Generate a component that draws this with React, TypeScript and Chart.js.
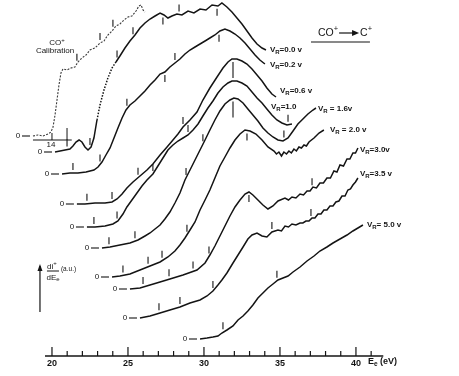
import React, { useEffect, useRef } from "react";
import { Chart, registerables } from "chart.js";

Chart.register(...registerables);

const FONT = '"Liberation Sans", Arial, Helvetica, sans-serif';
const INK = "#141414";

// ---- x axis (electron energy, eV) ----
const axisTicks = [20, 21, 22, 23, 24, 25, 26, 27, 28, 29, 30, 31, 32, 33, 34, 35, 36, 37, 38, 39, 40, 41];
const axisStart = 19.54;
const axisEnd = 41.8;

// ---- CO+ calibration ----
const calE = [18.75, 19.08, 19.41, 19.74, 19.93, 20.07, 20.2, 20.33, 20.46, 20.59, 20.72, 20.99, 21.25, 21.51, 21.71, 21.97, 22.24, 22.5, 22.83, 23.16, 23.42, 23.68, 23.95, 24.21, 24.47, 24.74, 25.0, 25.26, 25.53, 25.72, 25.86, 25.99, 26.12];
const calI = [22.0, 22.1, 22.0, 22.2, 22.4, 22.9, 24.1, 25.6, 27.1, 28.3, 28.7, 28.6, 28.8, 28.9, 29.4, 29.8, 30.1, 30.6, 30.8, 31.3, 31.5, 32.1, 32.5, 33.0, 33.2, 33.6, 33.9, 34.0, 34.5, 35.0, 35.1, 34.6, 34.4];
const calTicks = [21.64, 23.16, 24.01];

// ---- V_R = 0.0 ----
const v00E = [20.2, 20.53, 20.86, 21.18, 21.38, 21.58, 21.78, 21.97, 22.17, 22.37, 22.57, 22.76, 22.96, 23.16, 23.42, 23.68, 23.95, 24.21, 24.47, 24.8, 25.13, 25.46, 25.79, 26.12, 26.45, 26.78, 27.11, 27.37, 27.63, 27.89, 28.22, 28.55, 28.95, 29.34, 29.74, 30.13, 30.53, 30.92, 31.18, 31.51, 31.84, 32.17, 32.5, 32.83, 33.16, 33.49, 33.82, 34.08];
const v00I = [20.4, 20.5, 20.6, 20.7, 21.0, 21.4, 21.6, 21.4, 20.9, 20.6, 20.9, 21.8, 23.6, 25.1, 26.6, 27.8, 28.8, 29.4, 30.0, 30.8, 31.5, 32.1, 32.8, 33.3, 33.7, 34.0, 34.3, 34.1, 33.8, 34.0, 34.2, 34.1, 34.5, 34.3, 34.7, 34.6, 35.1, 35.0, 35.3, 34.9, 34.4, 33.8, 33.2, 32.5, 31.8, 31.2, 30.8, 30.6];
const v00Ticks = [20.99, 22.5, 24.28, 25.33, 27.3, 28.36, 30.86];

// ---- V_R = 0.2 ----
const v02E = [20.66, 21.18, 21.71, 22.24, 22.76, 23.03, 23.29, 23.55, 23.82, 24.08, 24.34, 24.61, 24.87, 25.13, 25.46, 25.79, 26.12, 26.45, 26.78, 27.11, 27.43, 27.76, 28.09, 28.42, 28.75, 29.08, 29.41, 29.74, 30.07, 30.39, 30.72, 31.05, 31.38, 31.71, 32.04, 32.37, 32.7, 33.03, 33.36, 33.68, 34.01];
const v02I = [18.2, 18.3, 18.3, 18.4, 18.6, 18.9, 19.4, 20.1, 20.8, 21.8, 22.8, 23.8, 24.6, 25.1, 25.5, 26.0, 26.5, 27.1, 27.6, 28.2, 28.4, 28.9, 29.3, 29.7, 30.2, 30.6, 30.9, 31.2, 31.5, 31.8, 32.1, 32.5, 32.7, 32.5, 32.2, 31.8, 31.3, 30.7, 30.1, 29.6, 29.2];
const v02Ticks = [21.38, 23.16, 24.93, 27.43, 28.09, 30.99];

// ---- V_R = 0.6 ----
const v06E = [21.64, 22.17, 22.83, 23.49, 23.95, 24.28, 24.61, 24.93, 25.33, 25.79, 26.25, 26.64, 27.11, 27.57, 27.96, 28.29, 28.62, 29.08, 29.54, 29.93, 30.39, 30.86, 31.25, 31.58, 31.84, 32.17, 32.5, 32.83, 33.16, 33.49, 33.82, 34.14, 34.47, 34.74];
const v06I = [15.2, 15.2, 15.3, 15.3, 15.4, 15.7, 16.2, 16.8, 17.4, 18.0, 18.6, 19.2, 20.1, 20.9, 21.6, 22.2, 22.9, 23.6, 24.4, 25.6, 26.8, 27.9, 28.8, 29.4, 29.7, 29.7, 29.5, 29.2, 28.7, 28.1, 27.5, 26.8, 26.2, 25.9];
const v06Ticks = [22.3, 23.95, 25.66, 28.62, 31.91];

// ---- V_R = 1.0 ----
const v10E = [22.3, 22.83, 23.49, 24.01, 24.34, 24.67, 24.93, 25.26, 25.59, 25.92, 26.25, 26.64, 26.97, 27.3, 27.63, 27.96, 28.29, 28.62, 28.95, 29.28, 29.61, 29.93, 30.26, 30.59, 30.92, 31.25, 31.58, 31.84, 32.17, 32.5, 32.83, 33.16, 33.49, 33.82, 34.14, 34.47, 34.8, 35.13, 35.46, 35.79];
const v10I = [12.9, 12.9, 13.0, 13.2, 13.5, 14.2, 14.9, 15.6, 16.3, 17.0, 17.6, 18.2, 19.0, 19.8, 20.6, 21.1, 21.5, 21.8, 22.1, 22.6, 23.2, 24.0, 24.8, 25.5, 26.3, 26.9, 27.3, 27.5, 27.5, 27.3, 27.0, 26.4, 25.8, 25.3, 24.7, 24.1, 23.6, 23.3, 23.1, 23.2];
const v10Ticks = [22.76, 24.28, 26.64, 28.95, 35.53];

// ---- V_R = 1.6 ----
const v16E = [23.29, 23.82, 24.47, 25.13, 25.66, 26.12, 26.45, 26.78, 27.11, 27.43, 27.76, 28.09, 28.42, 28.75, 29.08, 29.41, 29.74, 30.07, 30.39, 30.72, 31.05, 31.38, 31.71, 31.97, 32.24, 32.57, 32.89, 33.22, 33.55, 33.88, 34.21, 34.54, 34.87, 35.2, 35.53, 35.86, 36.18, 36.51, 36.84, 37.17, 37.37];
const v16I = [10.8, 10.9, 11.1, 11.3, 11.6, 12.0, 12.3, 12.7, 13.1, 13.7, 14.4, 15.3, 16.3, 17.6, 18.6, 19.6, 20.6, 21.6, 22.6, 23.6, 24.5, 25.2, 25.6, 25.8, 25.7, 25.3, 24.7, 24.1, 23.5, 22.8, 22.3, 21.9, 21.6, 21.5, 21.8, 22.5, 23.2, 23.7, 24.2, 24.6, 24.8];
const v16Ticks = [23.75, 25.46, 28.82, 29.93, 31.91, 35.26];

// ---- V_R = 2.0 ----
const v20E = [23.95, 24.47, 25.13, 25.79, 26.45, 27.11, 27.63, 28.09, 28.42, 28.75, 29.08, 29.41, 29.74, 30.07, 30.39, 30.72, 31.05, 31.38, 31.71, 32.04, 32.37, 32.7, 33.03, 33.42, 33.82, 34.21, 34.61, 34.77, 34.93, 35.1, 35.26, 35.43, 35.59, 35.75, 35.92, 36.08, 36.25, 36.41, 36.58, 36.74, 36.91, 37.24, 37.57, 37.89];
const v20I = [7.9, 8.0, 8.2, 8.6, 9.0, 9.4, 9.9, 10.5, 11.1, 11.8, 12.6, 13.4, 14.6, 15.6, 16.6, 17.8, 19.0, 19.9, 20.8, 21.6, 22.2, 22.6, 22.5, 22.2, 21.6, 20.9, 20.5, 20.2, 20.4, 20.0, 20.4, 20.2, 20.5, 20.3, 20.7, 20.5, 20.9, 20.8, 21.1, 21.0, 21.4, 21.8, 22.3, 22.6];
const v20Ticks = [24.67, 26.32, 27.24, 28.88, 32.83];

// ---- V_R = 3.0 ----
const v30E = [25.13, 25.79, 26.45, 27.11, 27.76, 28.62, 29.54, 30.07, 30.39, 30.72, 31.05, 31.38, 31.71, 32.04, 32.37, 32.7, 32.96, 33.22, 33.55, 33.88, 34.21, 34.54, 34.87, 35.33, 35.56, 35.79, 36.05, 36.32, 36.55, 36.78, 36.98, 37.17, 37.4, 37.63, 37.86, 38.09, 38.32, 38.55, 38.75, 38.95, 39.18, 39.41, 39.6, 39.8, 39.97, 40.13];
const v30I = [6.7, 6.8, 7.1, 7.4, 7.7, 8.1, 8.6, 9.3, 10.1, 11.0, 12.0, 13.0, 14.0, 14.9, 15.6, 16.2, 16.4, 16.1, 15.6, 15.1, 14.7, 15.0, 15.5, 15.8, 15.6, 15.9, 15.8, 16.2, 16.1, 16.5, 16.5, 16.9, 16.8, 17.3, 17.3, 17.8, 17.8, 18.5, 18.4, 19.1, 19.0, 19.7, 19.7, 20.3, 20.3, 20.8];
const v30Ticks = [25.99, 27.7, 29.28, 30.33, 32.96, 37.11];

// ---- V_R = 3.5 ----
const v35E = [25.79, 26.45, 27.11, 27.76, 28.42, 29.08, 29.74, 30.2, 30.59, 30.92, 31.18, 31.51, 31.91, 32.24, 32.57, 32.89, 33.16, 33.49, 33.82, 34.14, 34.47, 34.87, 35.1, 35.33, 35.56, 35.79, 36.05, 36.32, 36.51, 36.71, 36.91, 37.11, 37.3, 37.5, 37.7, 37.89, 38.09, 38.29, 38.49, 38.68, 38.88, 39.08, 39.28, 39.47, 39.64, 39.8, 39.97, 40.13];
const v35I = [3.8, 4.0, 4.3, 4.6, 4.9, 5.3, 5.6, 6.0, 6.5, 7.1, 7.6, 8.3, 9.3, 10.1, 10.9, 11.7, 12.1, 12.3, 12.0, 11.9, 12.4, 12.6, 12.5, 13.0, 12.9, 13.2, 13.1, 13.3, 13.3, 13.5, 13.5, 13.8, 13.8, 14.2, 14.2, 14.6, 14.6, 15.0, 15.0, 15.4, 15.5, 16.0, 16.0, 16.6, 16.7, 17.1, 17.4, 17.8];
const v35Ticks = [27.04, 28.42, 30.59, 34.47, 37.04];

// ---- V_R = 5.0 ----
const v50E = [29.74, 30.2, 30.59, 30.92, 31.18, 31.51, 31.91, 32.24, 32.57, 32.89, 33.22, 33.55, 33.88, 34.21, 34.54, 34.87, 35.2, 35.53, 35.86, 36.32, 36.78, 37.24, 37.63, 38.09, 38.49, 38.95, 39.41, 39.8, 40.13, 40.46];
const v50I = [1.7, 1.8, 1.9, 2.0, 2.3, 2.6, 3.0, 3.6, 4.0, 4.5, 5.1, 5.8, 6.3, 6.8, 7.2, 7.6, 7.8, 8.0, 8.4, 8.9, 9.5, 10.0, 10.5, 10.9, 11.3, 11.7, 12.1, 12.5, 12.8, 13.1];
const v50Ticks = [31.25, 34.8];

// V_R label texts (after the "V_R") and anchors (eV, a.u.)
const vrText = ["=0.0 v", "=0.2 v", "=0.6 v", "=1.0", " = 1.6v", " = 2.0 v", "=3.0v", "=3.5 v", "= 5.0 v"];
const vrAnchorE = [34.34, 34.34, 35.0, 34.41, 37.5, 38.29, 40.26, 40.26, 40.72];
const vrAnchorI = [30.6, 29.1, 26.5, 24.9, 24.7, 22.6, 20.6, 18.2, 13.1];

type Series = { E: number[]; I: number[]; ticks: number[]; sides: string; dash?: boolean; dotFrom?: number; dotTo?: number };

const series: Series[] = [
  { E: calE, I: calI, ticks: calTicks, sides: "uuu", dash: true },
  { E: v00E, I: v00I, ticks: v00Ticks, sides: "uuuudud", dotFrom: 22.9, dotTo: 24.3 },
  { E: v02E, I: v02I, ticks: v02Ticks, sides: "uuudud" },
  { E: v06E, I: v06I, ticks: v06Ticks, sides: "uuuuD" },
  { E: v10E, I: v10I, ticks: v10Ticks, sides: "uuuuu" },
  { E: v16E, I: v16I, ticks: v16Ticks, sides: "uuuuDu" },
  { E: v20E, I: v20I, ticks: v20Ticks, sides: "uuuud" },
  { E: v30E, I: v30I, ticks: v30Ticks, sides: "uuuudu" },
  { E: v35E, I: v35I, ticks: v35Ticks, sides: "uuuuu" },
  { E: v50E, I: v50I, ticks: v50Ticks, sides: "uu" },
];

function interp(E: number[], I: number[], e: number) {
  if (e <= E[0]) return I[0];
  for (let i = 1; i < E.length; i++) {
    if (e <= E[i]) {
      const t = (e - E[i - 1]) / (E[i] - E[i - 1]);
      return I[i - 1] + t * (I[i] - I[i - 1]);
    }
  }
  return I[I.length - 1];
}

function rich(ctx: CanvasRenderingContext2D, x: number, y: number, parts: [string, number, number][], weight = "normal", align = "left") {
  let w = 0;
  for (const [t, s] of parts) {
    ctx.font = `${weight} ${s}px ${FONT}`;
    w += ctx.measureText(t).width;
  }
  let cx = align === "center" ? x - w / 2 : x;
  for (const [t, s, dy] of parts) {
    ctx.font = `${weight} ${s}px ${FONT}`;
    ctx.fillText(t, cx, y + dy);
    cx += ctx.measureText(t).width;
  }
  return cx;
}

function seg(ctx: CanvasRenderingContext2D, x1: number, y1: number, x2: number, y2: number) {
  ctx.beginPath();
  ctx.moveTo(x1, y1);
  ctx.lineTo(x2, y2);
  ctx.stroke();
}

const figurePlugin = {
  id: "figureDecor",
  afterDatasetsDraw(chart: any) {
    const { ctx, scales } = chart;
    const X = (v: number) => scales.x.getPixelForValue(v);
    const Y = (v: number) => scales.y.getPixelForValue(v);
    ctx.save();
    ctx.strokeStyle = INK;
    ctx.fillStyle = INK;
    ctx.textBaseline = "middle";
    ctx.setLineDash([]);

    // energy axis with inward ticks
    const y0 = Y(0);
    ctx.lineWidth = 1.5;
    seg(ctx, X(axisStart), y0, X(axisEnd), y0);
    ctx.lineWidth = 1.2;
    for (const t of axisTicks) {
      const len = t % 5 === 0 ? 9 : 5;
      seg(ctx, X(t), y0, X(t), y0 - len);
    }
    rich(ctx, X(40.79), Y(-0.6), [["E", 9, 0], ["e", 6.5, 2], [" (eV)", 9, 0]], "bold");

    // curve tick marks and zero labels
    ctx.lineWidth = 1.1;
    series.forEach((s) => {
      s.ticks.forEach((e, k) => {
        const px = X(e);
        const py = Y(interp(s.E, s.I, e));
        const side = s.sides[k];
        if (side === "u") seg(ctx, px, py - 3, px, py - 10);
        else if (side === "d") seg(ctx, px, py + 3, px, py + 10);
        else seg(ctx, px, py + 3, px, py + 19);
      });
      const fx = X(s.E[0]);
      const fy = Y(s.I[0]);
      ctx.font = `normal 8px ${FONT}`;
      ctx.textAlign = "center";
      ctx.fillText("0", fx - 15, fy);
      ctx.textAlign = "left";
      seg(ctx, fx - 11, fy, fx - 3, fy);
    });

    // calibration "14" marker
    ctx.lineWidth = 1;
    seg(ctx, X(18.75), Y(21.6), X(21.3), Y(21.6));
    seg(ctx, X(20.0), Y(21.6), X(20.0), Y(22.3));
    seg(ctx, X(20.99), Y(21.6), X(20.99), Y(22.8));
    ctx.font = `normal 8px ${FONT}`;
    ctx.textAlign = "center";
    ctx.fillText("14", X(19.93), Y(21.1));
    ctx.textAlign = "left";

    // calibration caption
    rich(ctx, X(20.33), Y(31.3), [["CO", 8, 0], ["+", 6, -3]], "normal", "center");
    rich(ctx, X(20.2), Y(30.5), [["Calibration", 8, 0]], "normal", "center");

    // V_R labels
    vrText.forEach((t, i) => {
      rich(ctx, X(vrAnchorE[i]), Y(vrAnchorI[i]), [["V", 8, 0], ["R", 6, 2.5], [t, 8, 0]], "bold");
    });

    // title CO+ -> C+
    const tx = X(37.5);
    const ty = Y(32.3);
    let cx = rich(ctx, tx, ty, [["CO", 10.5, 0], ["+", 7.5, -4]]);
    ctx.lineWidth = 1.2;
    seg(ctx, cx + 1, ty, cx + 17, ty);
    ctx.beginPath();
    ctx.moveTo(cx + 21, ty);
    ctx.lineTo(cx + 14, ty - 3);
    ctx.lineTo(cx + 14, ty + 3);
    ctx.closePath();
    ctx.fill();
    rich(ctx, cx + 22, ty, [["C", 10.5, 0], ["+", 7.5, -4]]);
    seg(ctx, X(37.04), Y(31.4), X(40.92), Y(31.4));

    // intensity arrow and label
    ctx.lineWidth = 1.2;
    const ax = X(19.21);
    seg(ctx, ax, Y(4.4), ax, Y(9.0));
    ctx.beginPath();
    ctx.moveTo(ax, Y(9.2));
    ctx.lineTo(ax - 2.5, Y(9.2) + 7);
    ctx.lineTo(ax + 2.5, Y(9.2) + 7);
    ctx.closePath();
    ctx.fill();
    rich(ctx, X(20.0), Y(8.97), [["di", 8, 0], ["+", 6, -3]], "normal", "center");
    ctx.lineWidth = 1;
    seg(ctx, X(19.67), Y(8.5), X(20.46), Y(8.5));
    rich(ctx, X(20.07), Y(7.85), [["dE", 8, 0], ["e", 6, 2]], "normal", "center");
    rich(ctx, X(20.59), Y(8.7), [["(a.u.)", 6.5, 0]]);

    ctx.restore();
  },
};

export default function App() {
  const ref = useRef<HTMLCanvasElement | null>(null);
  useEffect(() => {
    if (!ref.current) return;
    const datasets = series.map((s) => ({
      data: s.E.map((e, i) => ({ x: e, y: s.I[i] })),
      borderColor: s.dash ? "#3a3a3a" : INK,
      borderWidth: s.dash ? 1.1 : 1.5,
      borderDash: s.dash ? [2, 1.4] : [],
      pointRadius: 0,
      tension: 0,
      fill: false,
      segment:
        s.dotFrom !== undefined
          ? {
              borderDash: (c: any) =>
                c.p0.parsed.x >= (s.dotFrom as number) && c.p1.parsed.x <= (s.dotTo as number) ? [1.5, 1.5] : undefined,
            }
          : undefined,
    }));
    const chart = new Chart(ref.current, {
      type: "line",
      data: { datasets },
      options: {
        responsive: false,
        maintainAspectRatio: false,
        animation: false,
        layout: { padding: 0 },
        plugins: { legend: { display: false }, tooltip: { enabled: false } },
        scales: {
          x: {
            type: "linear",
            min: 16.58,
            max: 46.78,
            afterBuildTicks: (sc: any) => {
              sc.ticks = axisTicks.map((v) => ({ value: v }));
            },
            afterFit: (sc: any) => {
              sc.height = 20;
            },
            grid: { display: false, drawTicks: false },
            border: { display: false },
            ticks: {
              autoSkip: false,
              maxRotation: 0,
              padding: 2,
              color: INK,
              font: { size: 9, weight: "bold", family: FONT },
              callback: (v: any) => (Number(v) % 5 === 0 ? String(v) : ""),
            },
          },
          y: { display: false, min: 0, max: 35.6 },
        },
      },
      plugins: [figurePlugin],
    } as any);
    return () => chart.destroy();
  }, []);
  return (
    <div style={{ position: "fixed", left: 0, top: 0, width: 459, height: 376, background: "#fff" }}>
      <canvas ref={ref} width={459} height={376} />
    </div>
  );
}
